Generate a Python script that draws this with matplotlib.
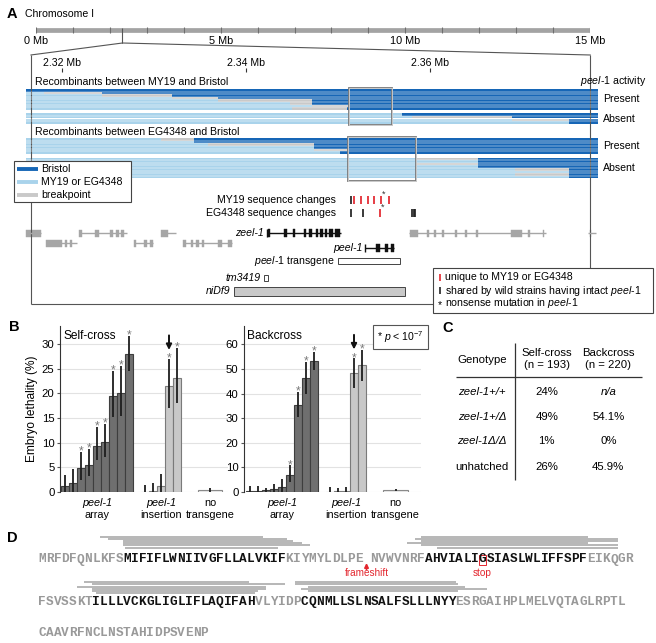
import matplotlib.pyplot as plt
from matplotlib.patches import Rectangle, ConnectionPatch

plt.rcParams['font.family'] = ['Liberation Sans', 'DejaVu Sans']
plt.rcParams['mathtext.fontset'] = 'custom'
plt.rcParams['mathtext.rm'] = 'Liberation Sans'
plt.rcParams['mathtext.it'] = 'Liberation Sans:italic'
plt.rcParams['mathtext.bf'] = 'Liberation Sans:bold'

W, H = 656, 643

# ---------------- A: chromosome, recombinants, genes ----------------
chrom_len_mb = 15
chrom_labels_mb = [0, 5, 10, 15]
zoom_at_mb = 2.34
window_kb = (2316.6, 2377.5)
row_kb = (2316.1, 2378.3)
zoom_ticks_kb = [2320, 2340, 2360]
zoom_tick_labels = ['2.32 Mb', '2.34 Mb', '2.36 Mb']

# rows: (end of wild-strain segment, end of breakpoint) in kb, Bristol beyond
my19_present = [(2316.1, 2316.1), (2318.0, 2324.4), (2324.4, 2332.0), (2332.0, 2337.0),
                (2337.0, 2347.2), (2344.8, 2347.2), (2347.2, 2351.2), (2345.0, 2351.0)]
my19_absent = [(2357.0, 2357.0), (2358.1, 2369.0), (2369.0, 2375.2), (2375.2, 2375.2)]
eg_present = [(2330.8, 2334.4), (2334.4, 2334.4), (2335.9, 2347.4), (2347.4, 2347.4),
              (2347.4, 2351.2), (2350.2, 2350.2)]
eg_absent = [(2358.5, 2365.3), (2365.3, 2365.3), (2358.5, 2365.3), (2365.3, 2365.3),
             (2369.3, 2375.2), (2375.2, 2375.2), (2369.3, 2375.2), (2375.2, 2375.2)]
my19_interval = (2351.2, 2355.9)
eg_interval = (2351.1, 2358.5)

my19_changes = [2351.5, 2351.75, 2352.5, 2353.3, 2354.0, 2354.7, 2355.6]
my19_unique = [0, 1, 1, 1, 1, 1, 1]
my19_nonsense = 2354.7
eg_changes = [2351.5, 2352.75, 2354.6, 2358.1, 2358.25, 2358.4]
eg_unique = [0, 0, 1, 0, 0, 0]
eg_nonsense = 2354.6

gray_genes_upper = [
    (2316.1, 2317.7, [(2316.1, 2317.7)]),
    (2321.9, 2327.1, [(2321.9, 2322.2), (2323.6, 2324.0), (2325.2, 2325.5), (2325.9, 2326.2), (2326.4, 2326.8)]),
    (2330.8, 2332.4, [(2330.8, 2331.5)]),
    (2357.8, 2372.7, [(2357.9, 2358.7), (2359.7, 2359.9), (2360.5, 2360.7), (2361.4, 2361.6),
                      (2362.8, 2363.0), (2363.9, 2364.1), (2365.1, 2365.3), (2368.9, 2370.0),
                      (2370.7, 2370.9), (2372.3, 2372.5)]),
    (2377.2, 2378.1, [(2377.4, 2377.6)]),
]
gray_genes_lower = [
    (2318.3, 2321.6, [(2318.3, 2320.0), (2320.3, 2320.5), (2320.9, 2321.1)]),
    (2327.8, 2329.9, [(2327.8, 2328.1), (2328.9, 2329.3), (2329.6, 2329.9)]),
    (2333.2, 2338.5, [(2333.2, 2333.5), (2334.0, 2334.3), (2334.6, 2334.9), (2335.2, 2335.5),
                      (2337.0, 2337.4), (2338.1, 2338.5)]),
]
zeel1 = (2342.3, 2350.4, [(2342.4, 2342.6), (2344.2, 2344.5), (2345.1, 2345.4), (2346.3, 2346.6),
                          (2346.9, 2347.2), (2347.6, 2347.9), (2348.1, 2348.4), (2348.6, 2348.8),
                          (2349.1, 2349.5), (2349.7, 2350.2)])
peel1 = (2353.0, 2356.1, [(2354.2, 2354.6), (2355.2, 2355.5), (2355.8, 2356.1)])
transgene_kb = (2350.0, 2356.8)
tm3419_kb = (2342.0, 2342.4)
nidf9_kb = (2338.7, 2357.3)

# ---------------- B: embryo lethality ----------------
self_array = [1.3, 1.8, 4.9, 5.5, 9.3, 10.2, 19.5, 20.0, 28.0]
self_array_lo = [0, 0, 2.4, 3.3, 6.5, 7.1, 15.3, 15.5, 24.6]
self_array_hi = [3.5, 4.7, 8.2, 8.8, 13.2, 13.8, 24.6, 25.5, 31.7]
self_array_sig = [0, 0, 1, 1, 1, 1, 1, 1, 1]
self_ins = [0.0, 0.3, 1.3, 21.5, 23.1]
self_ins_lo = [0, 0, 0, 17.1, 18.0]
self_ins_hi = [1.4, 1.8, 3.7, 27.0, 29.2]
self_ins_sig = [0, 0, 0, 1, 1]
self_none = [0.4]
self_none_lo = [0.1]
self_none_hi = [0.8]

back_array = [0.5, 0.5, 1.0, 1.4, 2.2, 6.9, 35.4, 46.2, 53.4]
back_array_lo = [0, 0, 0, 0, 0, 4.2, 30.6, 39.8, 49.6]
back_array_hi = [2.4, 2.6, 1.8, 3.3, 5.2, 10.8, 40.8, 52.7, 57.0]
back_array_sig = [0, 0, 0, 0, 0, 1, 1, 1, 1]
back_ins = [0.0, 0.3, 0.5, 48.2, 51.6]
back_ins_lo = [0, 0, 0, 42.1, 45.1]
back_ins_hi = [2.0, 1.8, 2.0, 54.3, 57.7]
back_ins_sig = [0, 0, 0, 1, 1]
back_none = [0.8]
back_none_lo = [0.4]
back_none_hi = [1.3]

# ---------------- C: genotype table ----------------
genotypes = ['zeel-1+/+', 'zeel-1+/Δ', 'zeel-1Δ/Δ', 'unhatched']
self_pct = ['24%', '49%', '1%', '26%']
back_pct = ['n/a', '54.1%', '0%', '45.9%']

# ---------------- D: peel-1 protein ----------------
seq_lines = [
    [('MRFDFQNLKFS', 0), ('MIFIFLWNIIVGFLLALVKIF', 1), ('KIYMYLDLPE', 0), (' ', 0),
     ('NVWVNRF', 0), ('AHVIALI', 1), ('G', 1), ('SIASLWLIFFSPF', 1), ('EIKQGR', 0)],
    [('FSVSSKT', 0), ('ILLLVCKGLIGLIFLAQIFAH', 1), ('VLYIDP', 0),
     ('CQNMLLSLNSALFSLLLNYY', 1), ('ESRGAIHPLMELVQTAGLRPTL', 0)],
    [('CAAVRFNCLNSTAHIDPSVENP', 0)],
]
# peptide coverage (start, end) in sequence columns, one list per stacked cluster
peptides_1a = [(8.0, 29.1), (9.1, 32.2), (11.0, 33.0), (11.0, 34.2), (11.0, 35.2), (11.2, 31.0)]
peptides_1b = [(49.6, 71.2), (48.8, 75.0), (49.6, 75.0), (47.7, 71.2), (49.6, 75.0), (51.6, 75.0)]
peptides_2a = [(5.9, 27.3), (7.0, 31.9), (5.0, 29.5), (7.0, 29.5), (7.0, 28.4), (7.5, 28.1)]
peptides_2b = [(33.2, 54.1), (33.2, 54.3), (34.9, 55.2), (34.0, 58.1), (34.9, 54.3)]

DARK = '#1666b6'
LIGHT = '#a9d3eb'
BREAK = '#c9c9c9'
RED = '#e3262e'
GRAYTXT = '#999999'
FS = 7.6

fig = plt.figure(figsize=(W / 100, H / 100), dpi=100)

# canvas in pixels for layout text, kept on top
cax = fig.add_axes([0, 0, 1, 1])
cax.set_xlim(0, W)
cax.set_ylim(H, 0)
cax.axis('off')
cax.set_zorder(10)

# zoomed genomic axis: x in kb, y in pixels
px_per_kb = 9.19
zax = fig.add_axes([0, 0, 1, 1])
zax.set_xlim(2320 - 62 / px_per_kb, 2320 + (W - 62) / px_per_kb)
zax.set_ylim(H, 0)
zax.axis('off')

# chromosome overview
chax = fig.add_axes([36 / W, 1 - 48 / H, 554 / W, 28 / H])
chax.set_xlim(0, chrom_len_mb)
chax.set_ylim(48, 20)
chax.axis('off')
chax.hlines(30, 0, chrom_len_mb, color='#a3a3a3', lw=3.4)
chax.vlines(range(chrom_len_mb + 1), 27.4, 32.6, color='#6e6e6e', lw=0.8)
for mb in chrom_labels_mb:
    chax.text(mb, 41, f'{mb} Mb', ha='center', va='center', fontsize=7.8)
chax.vlines(zoom_at_mb, 28, 43, color='#555555', lw=0.8)
for xk in window_kb:
    fig.add_artist(ConnectionPatch(xyA=(zoom_at_mb, 43), coordsA=chax.transData,
                                   xyB=(xk, 55), coordsB=zax.transData, color='#555555', lw=0.8))

cax.text(12, 14, 'A', fontsize=10.5, fontweight='bold', ha='center', va='center')
cax.text(25, 14, 'Chromosome I', fontsize=FS, va='center')

# zoom window frame
zax.vlines(window_kb, 55, 304, color='#555555', lw=0.8)
zax.hlines(304, window_kb[0], window_kb[1], color='#555555', lw=0.8)
zax.vlines(zoom_ticks_kb, 68, 72, color='#333333', lw=0.8)
for k, lab in zip(zoom_ticks_kb, zoom_tick_labels):
    zax.text(k, 62.5, lab, ha='center', va='center', fontsize=FS)

pitch = 2.6


def draw_rows(rows, top):
    for i, (lt, br) in enumerate(rows):
        y = top + (i + 0.5) * pitch
        zax.barh(y, lt - row_kb[0], left=row_kb[0], height=pitch, color=LIGHT, lw=0)
        zax.barh(y, br - lt, left=lt, height=pitch, color=BREAK, lw=0)
        zax.barh(y, row_kb[1] - br, left=br, height=pitch, color=DARK, lw=0)
        if i:
            zax.hlines(top + i * pitch, row_kb[0], row_kb[1], color='white', lw=0.35)
    return top + len(rows) * pitch / 2


cax.text(35, 82, 'Recombinants between MY19 and Bristol', fontsize=FS, va='center')
cax.text(646, 81, r'$\mathit{peel}$-$\mathit{1}$ activity', fontsize=FS, va='center', ha='right')
cax.text(35, 132, 'Recombinants between EG4348 and Bristol', fontsize=FS, va='center')
for rows, top, lab in [(my19_present, 89, 'Present'), (my19_absent, 113.3, 'Absent'),
                       (eg_present, 138.2, 'Present'), (eg_absent, 157.6, 'Absent')]:
    yc = draw_rows(rows, top)
    cax.text(603, yc, lab, fontsize=FS, va='center')

for (a, b), (y0, y1) in [(my19_interval, (88, 125)), (eg_interval, (137, 181))]:
    zax.add_patch(Rectangle((a, y0), b - a, y1 - y0, fill=False, ec='#7a7a7a', lw=1.3, zorder=4))
    zax.add_patch(Rectangle((a, y0), b - a, y1 - y0, fill=False, ec='white', lw=0.4, zorder=4))

# left legend
cax.add_patch(Rectangle((14, 161), 117, 41, fc='white', ec='#444444', lw=0.8, zorder=5))
for y, c, lab in [(169, DARK, 'Bristol'), (182, LIGHT, 'MY19 or EG4348'), (195, BREAK, 'breakpoint')]:
    cax.plot([17, 38], [y, y], color=c, lw=2.8, zorder=6, solid_capstyle='butt')
    cax.text(41, y, lab, fontsize=FS, va='center', zorder=6)

# sequence changes
cax.text(336, 200, 'MY19 sequence changes', fontsize=FS, va='center', ha='right')
cax.text(336, 213, 'EG4348 sequence changes', fontsize=FS, va='center', ha='right')
for ys, pos, uniq, nons in [(200, my19_changes, my19_unique, my19_nonsense),
                            (213, eg_changes, eg_unique, eg_nonsense)]:
    zax.vlines(pos, ys - 3.6, ys + 3.6, colors=[RED if u else '#222222' for u in uniq], lw=1.25)
    zax.text(nons + 0.25, ys - 6, '*', fontsize=6.5, ha='center', va='center', color='#333333')


def draw_gene(g, y, color, h=7):
    s, e, exons = g
    zax.hlines(y, s, e, color=color, lw=1.0)
    for a, b in exons:
        zax.add_patch(Rectangle((a, y - h / 2), b - a, h, fc=color, ec=color, lw=0.3))


for g in gray_genes_upper:
    draw_gene(g, 233, '#a6a6a6')
for g in gray_genes_lower:
    draw_gene(g, 243, '#a6a6a6')
draw_gene(zeel1, 233, '#111111', 8)
zax.vlines(zeel1[0], 229, 237, color='#111111', lw=1.0)
draw_gene(peel1, 248, '#111111', 8)
zax.vlines(peel1[0], 244, 252, color='#111111', lw=1.0)
zax.annotate('zeel-1', (zeel1[0], 233), xytext=(-2, 0), textcoords='offset points',
             ha='right', va='center', fontsize=FS, fontstyle='italic')
zax.annotate('peel-1', (peel1[0], 248), xytext=(-2, 0), textcoords='offset points',
             ha='right', va='center', fontsize=FS, fontstyle='italic')

for (a, b), (y0, y1), fc in [(transgene_kb, (258, 264), 'white'), (tm3419_kb, (275, 281), 'white'),
                             (nidf9_kb, (287, 296), '#c9c9c9')]:
    zax.add_patch(Rectangle((a, y0), b - a, y1 - y0, fc=fc, ec='#444444', lw=0.7))
zax.annotate(r'$\mathit{peel}$-$\mathit{1}$ transgene', (transgene_kb[0], 261), xytext=(-2.5, 0),
             textcoords='offset points', ha='right', va='center', fontsize=FS)
zax.annotate('tm3419', (tm3419_kb[0], 278), xytext=(-2.5, 0), textcoords='offset points',
             ha='right', va='center', fontsize=FS, fontstyle='italic')
zax.annotate('niDf9', (nidf9_kb[0], 291.5), xytext=(-2.5, 0), textcoords='offset points',
             ha='right', va='center', fontsize=FS, fontstyle='italic')

# right legend
cax.add_patch(Rectangle((433, 268), 220, 45, fc='white', ec='#444444', lw=0.8, zorder=5))
cax.vlines(440, 274, 281, color=RED, lw=1.2, zorder=6)
cax.text(445, 277.5, 'unique to MY19 or EG4348', fontsize=FS, va='center', zorder=6)
cax.vlines(440, 287, 294, color='#222222', lw=1.2, zorder=6)
cax.text(445, 290.5, r'shared by wild strains having intact $\mathit{peel}$-$\mathit{1}$',
         fontsize=FS, va='center', zorder=6)
cax.text(440, 305, '*', fontsize=7.5, va='center', ha='center', zorder=6)
cax.text(445, 303.5, r'nonsense mutation in $\mathit{peel}$-$\mathit{1}$', fontsize=FS,
         va='center', zorder=6)

# ---------------- B ----------------
cax.text(14, 327, 'B', fontsize=10.5, fontweight='bold', ha='center', va='center')


def draw_group(ax, x0, vals, lo, hi, sig, fc, ec, width=8):
    xs = [x0 + width / 2 + width * i for i in range(len(vals))]
    ax.bar(xs, vals, width=width, color=fc, edgecolor=ec, linewidth=0.8, zorder=2)
    ax.vlines(xs, lo, hi, color='#1e1e1e', lw=1.3, zorder=3)
    for x, h, s in zip(xs, hi, sig):
        if s:
            ax.annotate('*', (x, h), xytext=(0, -1.8), textcoords='offset points', ha='center',
                        va='baseline', fontsize=8.8, color='#7a7a7a')
    return xs


def cross_panel(rect, ymax, yticks, title, starts, data, none_w):
    ax = fig.add_axes(rect)
    ax.patch.set_visible(False)
    xmax = rect[2] * W
    ax.set_xlim(0, xmax)
    ax.set_ylim(0, ymax)
    for s in ['top', 'right', 'bottom']:
        ax.spines[s].set_visible(False)
    ax.spines['left'].set_color('#333333')
    ax.spines['left'].set_linewidth(0.8)
    ax.set_xticks([])
    ax.set_yticks(yticks)
    ax.tick_params(axis='y', length=2, labelsize=8.2, color='#555555', pad=2)
    ax.yaxis.grid(True, color='#e2e2e2', lw=0.8, zorder=0)
    ax.set_axisbelow(True)
    ax.text(3, 0.94 * ymax, title, fontsize=8.6, va='center')
    (arr, arr_lo, arr_hi, arr_sig), (ins, ins_lo, ins_hi, ins_sig), (non, non_lo, non_hi) = data
    draw_group(ax, starts[0], arr, arr_lo, arr_hi, arr_sig, '#6f6f6f', '#3e3e3e')
    xi = draw_group(ax, starts[1], ins, ins_lo, ins_hi, ins_sig, '#c8c8c8', '#7a7a7a')
    draw_group(ax, starts[2], non, non_lo, non_hi, [0], '#f0f0f0', '#8a8a8a', width=none_w)
    ax.annotate('', xy=(xi[3], ins_hi[3]), xytext=(0, 17), textcoords='offset points',
                arrowprops=dict(arrowstyle='-|>', color='#111111', lw=1.4, shrinkA=0, shrinkB=6.5,
                                mutation_scale=8))
    centers = [starts[0] + 36, starts[1] + 20, starts[2] + none_w / 2]
    for c, l1, l2, it in zip(centers, ['peel-1', 'peel-1', 'no'], ['array', 'insertion', 'transgene'],
                             [True, True, False]):
        ax.annotate(l1, (c, 0), xytext=(0, -8), textcoords='offset points', ha='center', va='center',
                    fontsize=FS + 0.2, fontstyle='italic' if it else 'normal', annotation_clip=False)
        ax.annotate(l2, (c, 0), xytext=(0, -16.8), textcoords='offset points', ha='center',
                    va='center', fontsize=FS + 0.2, annotation_clip=False)
    return ax


ax_self = cross_panel([60 / W, 151 / H, 168 / W, 166 / H], 33.7, range(0, 31, 5), 'Self-cross',
                      (1, 81, 138),
                      [(self_array, self_array_lo, self_array_hi, self_array_sig),
                       (self_ins, self_ins_lo, self_ins_hi, self_ins_sig),
                       (self_none, self_none_lo, self_none_hi)], 24)
ax_self.set_ylabel('Embryo lethality (%)', fontsize=8.6, labelpad=3)
ax_back = cross_panel([244 / W, 151 / H, 177 / W, 166 / H], 67.5, range(0, 61, 10), 'Backcross',
                      (2, 82, 139),
                      [(back_array, back_array_lo, back_array_hi, back_array_sig),
                       (back_ins, back_ins_lo, back_ins_hi, back_ins_sig),
                       (back_none, back_none_lo, back_none_hi)], 25)
cax.text(400.5, 337, r'* $p$ < 10$^{-7}$', ha='center', va='center', fontsize=FS,
         bbox=dict(boxstyle='square,pad=0.35', fc='white', ec='#555555', lw=0.8))

# ---------------- C ----------------
cax.text(448, 328, 'C', fontsize=10.5, fontweight='bold', ha='center', va='center')
cfs = 8.2
cax.vlines(514.5, 343, 480, color='#333333', lw=0.9)
cax.hlines(376.7, 456, 642, color='#333333', lw=0.9)
cax.text(482, 360, 'Genotype', ha='center', va='center', fontsize=cfs)
for xc, t1, t2 in [(546.7, 'Self-cross', '(n = 193)'), (608, 'Backcross', '(n = 220)')]:
    cax.text(xc, 352.7, t1, ha='center', va='center', fontsize=cfs)
    cax.text(xc, 365, t2, ha='center', va='center', fontsize=cfs)
for y, g, s, b in zip([392.3, 416.7, 441, 466.7], genotypes, self_pct, back_pct):
    cax.text(482.3, y, g, ha='center', va='center', fontsize=cfs,
             fontstyle='normal' if g == 'unhatched' else 'italic')
    cax.text(546.7, y, s, ha='center', va='center', fontsize=cfs)
    cax.text(608.3, y, b, ha='center', va='center', fontsize=cfs,
             fontstyle='italic' if b == 'n/a' else 'normal')

# ---------------- D ----------------
cax.text(12, 538, 'D', fontsize=10.5, fontweight='bold', ha='center', va='center')
cw = 7.73
dax = fig.add_axes([0, 0, 1, 1])
dax.set_xlim(-38 / cw, (W - 38) / cw)
dax.set_ylim(H, 0)
dax.axis('off')

line_y = [559.5, 602.3, 632.7]
stop_col = frame_col = None
for segs, y in zip(seq_lines, line_y):
    col = 0
    for seg, bold in segs:
        if seg == 'G' and stop_col is None:
            stop_col = col
        if seg == ' ':
            frame_col = col
        for ch in seg:
            dax.text(col + 0.5, y, ch, ha='center', va='center', family='Liberation Mono',
                     fontweight='bold', fontsize=9.2, color='#111111' if bold else GRAYTXT)
            col += 1

for grp, top in [(peptides_1a, 537.0), (peptides_1b, 537.0), (peptides_2a, 582.3), (peptides_2b, 582.3)]:
    for k, (a, b) in enumerate(grp):
        dax.hlines(top + 2.1 * k, a, b, color='#b4b4b4', lw=1.35)

dax.add_patch(Rectangle((stop_col + 0.02, 554.5), 0.96, 10.5, fill=False, ec=RED, lw=0.7))
dax.text(stop_col + 0.5, 573, 'stop', color=RED, fontsize=7.2, ha='center', va='center')
dax.annotate('', xy=(frame_col + 0.5, 563), xytext=(frame_col + 0.5, 569.5),
             arrowprops=dict(arrowstyle='-|>', color=RED, lw=1.2, shrinkA=0, shrinkB=0,
                             mutation_scale=6))
dax.text(frame_col + 0.5, 573.5, 'frameshift', color=RED, fontsize=7.2, ha='center', va='center')

fig.savefig('out.png', dpi=100)
